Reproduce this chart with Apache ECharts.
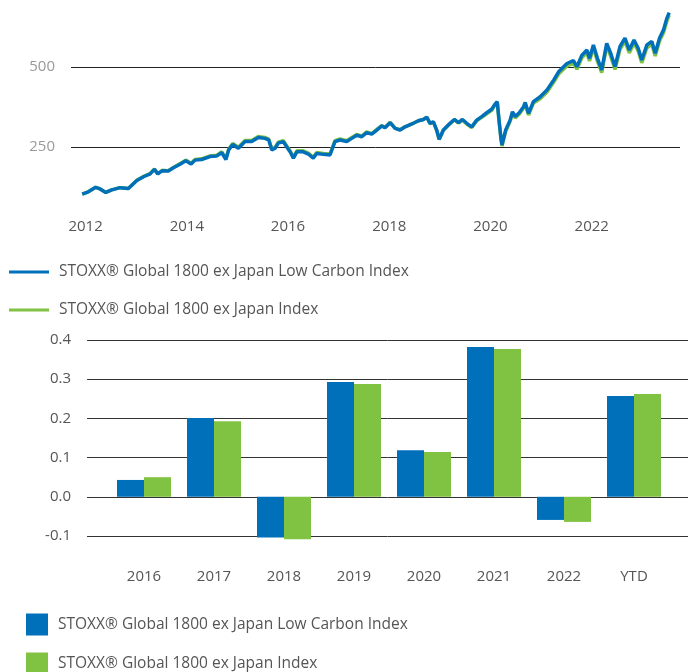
<!DOCTYPE html>
<html>
<head>
<meta charset="utf-8">
<script src="https://cdn.jsdelivr.net/npm/echarts@6/dist/echarts.min.js"></script>
<style>
  html, body { margin: 0; padding: 0; background: #fff; }
  #main { width: 688px; height: 672px; }
</style>
</head>
<body>
<div id="main"></div>
<script>
// index names
var nameLowCarbon = 'STOXX® Global 1800 ex Japan Low Carbon Index';
var nameBenchmark = 'STOXX® Global 1800 ex Japan Index';

// price history
var dates = [
  '2011-12-08','2012-01-21','2012-03-14','2012-04-15','2012-05-26','2012-07-08','2012-09-06','2012-11-05',
  '2013-01-05','2013-02-22','2013-04-11','2013-05-12','2013-06-05','2013-07-08','2013-08-20','2013-09-26',
  '2013-11-13','2013-12-24','2014-02-01','2014-03-01','2014-04-18','2014-06-17','2014-08-04','2014-09-10',
  '2014-10-10','2014-10-30','2014-11-28','2015-01-08','2015-02-25','2015-04-14','2015-06-01','2015-07-18',
  '2015-08-15','2015-09-06','2015-09-30','2015-10-23','2015-11-28','2015-12-22','2016-01-16','2016-02-09',
  '2016-03-05','2016-04-20','2016-05-27','2016-07-01','2016-07-26','2016-09-12','2016-10-30','2016-12-05',
  '2017-01-11','2017-02-28','2017-04-05','2017-05-11','2017-06-16','2017-07-22','2017-08-27','2017-10-03',
  '2017-11-08','2017-12-01','2018-01-07','2018-02-12','2018-03-20','2018-04-25','2018-06-13','2018-07-30',
  '2018-09-04','2018-09-29','2018-10-22','2018-11-15','2018-12-09','2018-12-27','2019-01-26','2019-03-03',
  '2019-04-16','2019-05-15','2019-06-13','2019-07-14','2019-08-19','2019-09-24','2019-10-30','2019-12-05',
  '2020-01-10','2020-02-03','2020-02-19','2020-03-03','2020-03-17','2020-03-24','2020-04-20','2020-05-22',
  '2020-06-08','2020-06-28','2020-07-27','2020-08-27','2020-09-08','2020-10-02','2020-11-06','2020-12-25',
  '2021-02-12','2021-04-01','2021-05-07','2021-07-06','2021-08-22','2021-09-16','2021-10-22','2021-11-27',
  '2021-12-16','2022-01-13','2022-02-11','2022-03-14','2022-04-19','2022-05-18','2022-06-18','2022-07-24',
  '2022-08-29','2022-09-29','2022-11-02','2022-12-03','2022-12-28','2023-02-03','2023-03-11','2023-04-04',
  '2023-05-05','2023-06-03','2023-06-27','2023-07-14'
];
var lowCarbonLevels = [
  103,110,124,119,108,116,123,120,
  145,157,166,180,166,176,175,185,
  196,207,197,209,211,220,222,232,
  211,241,258,246,267,267,280,277,
  272,241,246,262,267,251,235,215,
  235,235,228,215,230,227,225,267,
  272,267,277,287,282,295,290,303,
  316,310,326,308,303,313,322,332,
  336,343,324,329,303,274,303,319,
  336,326,336,324,313,334,345,357,
  368,384,392,334,277,256,303,334,
  360,345,357,376,389,355,392,407,
  428,459,485,511,520,501,537,553,
  527,569,527,491,574,543,501,564,
  590,553,584,558,522,569,580,543,
  590,616,652,670
];
var benchmarkLevels = [
  103,110,124,119,108,116,123,120,
  146,158,167,181,167,177,176,186,
  198,209,199,211,213,222,224,235,
  214,244,261,249,270,270,283,280,
  275,244,249,265,270,254,238,218,
  238,238,231,218,233,230,228,270,
  275,270,280,289,284,297,292,305,
  317,311,327,309,304,313,322,332,
  336,343,323,328,302,273,302,318,
  335,325,334,322,311,332,343,354,
  365,381,389,331,274,253,299,330,
  356,341,353,372,384,350,387,401,
  422,452,478,503,512,493,529,545,
  519,560,518,482,565,534,492,555,
  581,544,575,549,513,560,571,534,
  581,607,643,662
];
var yearTicks = ['2012-01-01','2014-01-01','2016-01-01','2018-01-01','2020-01-01','2022-01-01'];

// calendar year returns
var years = ['2016','2017','2018','2019','2020','2021','2022','YTD'];
var lowCarbonReturns = [0.043, 0.201, -0.104, 0.293, 0.119, 0.382, -0.059, 0.257];
var benchmarkReturns = [0.050, 0.193, -0.108, 0.288, 0.114, 0.377, -0.064, 0.262];

var blue = '#0070BA';
var green = '#80C242';
var font = '"Open Sans", sans-serif';

function ts(d) { return Date.parse(d + 'T00:00:00Z'); }
function pairs(xs, ys) {
  return xs.map(function (d, i) { return [ts(d), ys[i]]; });
}

var legendText = { color: '#555', fontSize: 15.5, fontFamily: font, padding: [0, 0, 0, 5], lineHeight: 18 };

function squareLegend(name, top) {
  return {
    data: [name],
    left: 26,
    top: top,
    padding: 0,
    icon: 'rect',
    itemWidth: 22,
    itemHeight: 22,
    selectedMode: false,
    textStyle: { color: '#555', fontSize: 15.5, fontFamily: font, padding: [5, 0, 0, 5], lineHeight: 18 }
  };
}

var chart = echarts.init(document.getElementById('main'));

var option = {
  animation: false,
  textStyle: { fontFamily: font },
  legend: [
    {
      data: [nameLowCarbon, nameBenchmark],
      orient: 'vertical',
      left: 9,
      top: 263,
      padding: 0,
      icon: 'rect',
      itemWidth: 40,
      itemHeight: 3,
      itemGap: 20,
      selectedMode: false,
      textStyle: legendText
    },
    squareLegend(nameLowCarbon, 613),
    squareLegend(nameBenchmark, 652)
  ],
  grid: [
    { left: 71, right: 8, top: 3, bottom: 445 },
    { left: 87, right: 0, top: 340, bottom: 136 },
    { left: 109, right: 19, top: 340, bottom: 136 }
  ],
  xAxis: [
    {
      type: 'value',
      gridIndex: 0,
      min: ts('2011-09-18'),
      max: ts('2023-09-30'),
      axisLine: { show: false },
      axisTick: { show: false },
      splitLine: { show: false },
      axisLabel: {
        customValues: yearTicks.map(ts),
        formatter: function (v) { return String(new Date(v).getUTCFullYear()); },
        color: '#555',
        fontSize: 15,
        fontFamily: font,
        margin: -8
      }
    },
    {
      type: 'value',
      gridIndex: 1,
      min: 0,
      max: 1,
      show: false
    },
    {
      type: 'category',
      gridIndex: 2,
      data: years,
      axisLine: { show: false, onZero: false },
      axisTick: { show: false },
      splitLine: { show: false },
      axisLabel: { color: '#555', fontSize: 15, fontFamily: font, margin: 33 }
    }
  ],
  yAxis: [
    {
      type: 'value',
      gridIndex: 0,
      min: 0,
      max: 700,
      interval: 250,
      axisLine: { show: false },
      axisTick: { show: false },
      axisLabel: {
        showMinLabel: false,
        showMaxLabel: false,
        color: '#999',
        fontSize: 15,
        fontFamily: font,
        margin: 16
      },
      splitLine: {
        lineStyle: { color: ['rgba(0,0,0,0)', '#222', '#222', 'rgba(0,0,0,0)'], width: 1 }
      }
    },
    {
      type: 'value',
      gridIndex: 1,
      min: -0.1,
      max: 0.4,
      interval: 0.1,
      axisLine: { show: false },
      axisTick: { show: false },
      axisLabel: {
        color: '#555',
        fontSize: 15,
        fontFamily: font,
        margin: 16,
        formatter: function (v) { return v.toFixed(1); }
      },
      splitLine: { lineStyle: { color: '#333', width: 1 } }
    },
    {
      type: 'value',
      gridIndex: 2,
      min: -0.1,
      max: 0.4,
      interval: 0.1,
      show: false,
      splitLine: { show: false }
    }
  ],
  series: [
    {
      name: nameLowCarbon,
      type: 'bar',
      xAxisIndex: 2,
      yAxisIndex: 2,
      data: lowCarbonReturns,
      barWidth: 27,
      barGap: '0%',
      clip: false,
      itemStyle: { color: blue }
    },
    {
      name: nameBenchmark,
      type: 'bar',
      xAxisIndex: 2,
      yAxisIndex: 2,
      data: benchmarkReturns,
      barWidth: 27,
      barGap: '0%',
      clip: false,
      itemStyle: { color: green }
    },
    {
      name: nameBenchmark,
      type: 'line',
      xAxisIndex: 0,
      yAxisIndex: 0,
      data: pairs(dates, benchmarkLevels),
      showSymbol: false,
      z: 2,
      lineStyle: { color: green, width: 3.5 },
      itemStyle: { color: green }
    },
    {
      name: nameLowCarbon,
      type: 'line',
      xAxisIndex: 0,
      yAxisIndex: 0,
      data: pairs(dates, lowCarbonLevels),
      showSymbol: false,
      z: 3,
      lineStyle: { color: blue, width: 3.5 },
      itemStyle: { color: blue }
    }
  ]
};

chart.setOption(option);
</script>
</body>
</html>
